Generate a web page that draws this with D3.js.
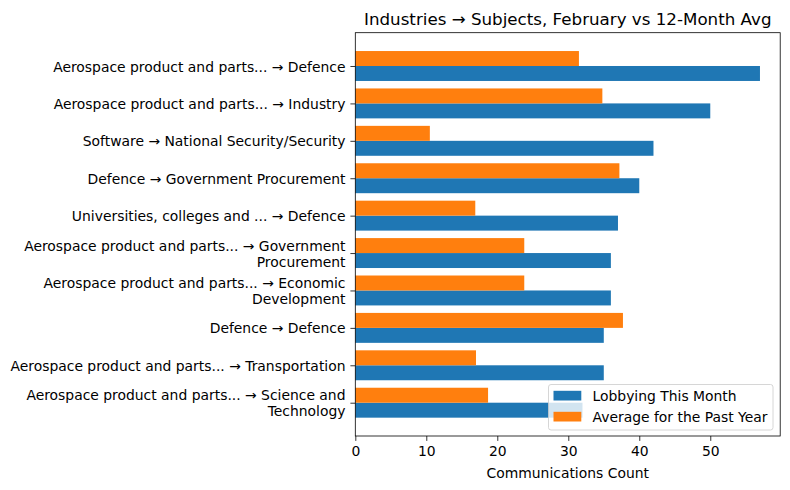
<!DOCTYPE html>
<html>
<head>
<meta charset="utf-8">
<script src="https://cdn.jsdelivr.net/npm/d3@7"></script>
<style>
  body { margin: 0; background: #fff; }
  svg { font-family: "DejaVu Sans", sans-serif; }
</style>
</head>
<body>
<svg id="chart" width="790" height="490"></svg>
<script>
const categories = [
  'Aerospace product and parts... → Defence',
  'Aerospace product and parts... → Industry',
  'Software → National Security/Security',
  'Defence → Government Procurement',
  'Universities, colleges and ... → Defence',
  'Aerospace product and parts... → Government\nProcurement',
  'Aerospace product and parts... → Economic\nDevelopment',
  'Defence → Defence',
  'Aerospace product and parts... → Transportation',
  'Aerospace product and parts... → Science and\nTechnology'
];
const thisMonth = [57, 50, 42, 40, 37, 36, 36, 35, 35, 32];
const pastYearAvg = [31.5, 34.8, 10.5, 37.2, 16.9, 23.8, 23.8, 37.7, 17.0, 18.7];
const xTicks = [0, 10, 20, 30, 40, 50];
const seriesNames = ['Lobbying This Month', 'Average for the Past Year'];
const colors = ['#1f77b4', '#ff7f0e'];

const svg = d3.select('#chart');
const plotL = 355.3, plotR = 780.2, plotT = 32.7, plotB = 436;
const barH = 0.4;

const x = d3.scaleLinear().domain([0, 57 * 1.05]).range([plotL, plotR]);
const y = d3.scaleLinear().domain([-0.89, categories.length - 1 + 0.89]).range([plotT, plotB]);

// bars
const g = svg.append('g');
g.selectAll('rect.cur')
  .data(thisMonth)
  .enter()
  .append('rect')
  .attr('class', 'cur')
  .attr('x', x(0))
  .attr('y', (d, i) => y(i))
  .attr('width', (d) => x(d) - x(0))
  .attr('height', y(barH) - y(0))
  .attr('fill', colors[0]);

g.selectAll('rect.avg')
  .data(pastYearAvg)
  .enter()
  .append('rect')
  .attr('class', 'avg')
  .attr('x', x(0))
  .attr('y', (d, i) => y(i - barH))
  .attr('width', (d) => x(d) - x(0))
  .attr('height', y(barH) - y(0))
  .attr('fill', colors[1]);

// x axis
const xAxis = svg.append('g')
  .attr('transform', `translate(0,${plotB})`)
  .call(d3.axisBottom(x).tickValues(xTicks).tickSize(4.9).tickPadding(4.9).tickSizeOuter(0));
xAxis.select('.domain').remove();
xAxis.selectAll('.tick line').attr('stroke', '#000').attr('stroke-width', 0.8);
xAxis.selectAll('.tick text')
  .attr('font-size', 13.9)
  .attr('font-family', '"DejaVu Sans", sans-serif')
  .attr('fill', '#000');

// y axis
const yAxis = svg.append('g')
  .attr('transform', `translate(${plotL},0)`)
  .call(d3.axisLeft(y).tickValues(d3.range(categories.length)).tickFormat('').tickSize(4.9).tickSizeOuter(0));
yAxis.select('.domain').remove();
yAxis.selectAll('.tick line').attr('stroke', '#000').attr('stroke-width', 0.8);
yAxis.selectAll('.tick').each(function (d) {
  const lines = categories[d].split('\n');
  const t = d3.select(this).append('text')
    .attr('text-anchor', 'end')
    .attr('font-size', 13.9)
    .attr('font-family', '"DejaVu Sans", sans-serif')
    .attr('fill', '#000');
  const lh = 16;
  const start = -((lines.length - 1) * lh) / 2;
  lines.forEach((ln, k) => {
    t.append('tspan')
      .attr('x', -9.8)
      .attr('y', start + k * lh)
      .attr('dy', '0.36em')
      .text(ln);
  });
});

// frame
svg.append('rect')
  .attr('x', plotL).attr('y', plotT)
  .attr('width', plotR - plotL).attr('height', plotB - plotT)
  .attr('fill', 'none').attr('stroke', '#000').attr('stroke-width', 0.8);

// title and axis label
svg.append('text')
  .attr('x', (plotL + plotR) / 2).attr('y', 24.5)
  .attr('text-anchor', 'middle')
  .attr('font-size', 16.7)
  .text('Industries → Subjects, February vs 12-Month Avg');

svg.append('text')
  .attr('x', (plotL + plotR) / 2).attr('y', 477.5)
  .attr('text-anchor', 'middle')
  .attr('font-size', 13.9)
  .text('Communications Count');

// legend
const lg = svg.append('g');
lg.append('rect')
  .attr('x', 548.5).attr('y', 384.5)
  .attr('width', 224.5).attr('height', 45.5)
  .attr('rx', 2.5)
  .attr('fill', '#fff').attr('fill-opacity', 0.8)
  .attr('stroke', '#ccc').attr('stroke-width', 0.8);
seriesNames.forEach((name, i) => {
  lg.append('rect')
    .attr('x', 553.5).attr('y', 390.8 + i * 21)
    .attr('width', 27.8).attr('height', 9.7)
    .attr('fill', colors[i]);
  lg.append('text')
    .attr('x', 592.5).attr('y', 400.5 + i * 21)
    .attr('font-size', 13.9)
    .text(name);
});
</script>
</body>
</html>
